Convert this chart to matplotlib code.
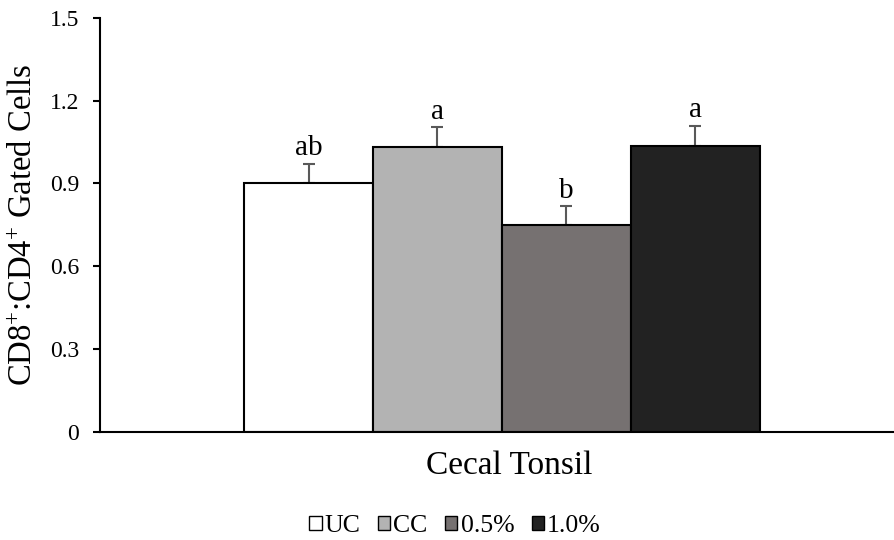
import matplotlib
matplotlib.use("Agg")
import matplotlib.pyplot as plt
from matplotlib.patches import Patch

plt.rcParams['font.family'] = ['Liberation Serif', 'DejaVu Serif']
plt.rcParams['mathtext.fontset'] = 'custom'
plt.rcParams['mathtext.rm'] = 'Liberation Serif'
plt.rcParams['mathtext.it'] = 'Liberation Serif:italic'

groups = ['UC', 'CC', '0.5%', '1.0%']
ratio = [0.902, 1.033, 0.749, 1.036]
sem = [0.070, 0.070, 0.068, 0.073]
letters = ['ab', 'a', 'b', 'a']
fills = ['#ffffff', '#b3b3b3', '#767171', '#222222']

fig = plt.figure(figsize=(8.94, 5.40), dpi=100)
ax = fig.add_axes([0.112, 0.2, 0.888, 0.767])

offsets = [-1.5, -0.5, 0.5, 1.5]
ax.bar(offsets, ratio, width=1.0, color=fills, edgecolor='black', linewidth=1.5, zorder=2)
ax.errorbar(offsets, ratio, yerr=[[0] * len(sem), sem], fmt='none', ecolor='#595959',
            elinewidth=1.5, capsize=4, capthick=1.5, zorder=1)
for x, v, e, t in zip(offsets, ratio, sem, letters):
    ax.text(x, v + e + 0.01, t, ha='center', va='bottom', fontsize=21)

ax.set_xlim(-3.116, 3.04)
ax.set_ylim(0, 1.5)
ax.set_yticks([0, 0.3, 0.6, 0.9, 1.2, 1.5])
ax.set_yticklabels(['0', '0.3', '0.6', '0.9', '1.2', '1.5'])
ax.set_xticks([])
ax.tick_params(axis='y', labelsize=17, length=5, width=1.5, direction='out', pad=10)
for s in ['top', 'right']:
    ax.spines[s].set_visible(False)
for s in ['left', 'bottom']:
    ax.spines[s].set_linewidth(1.5)

ax.set_ylabel(r'CD8$^{+}$:CD4$^{+}$ Gated Cells', fontsize=23.5)
ax.yaxis.set_label_coords(-0.077, 0.5)
ax.set_xlabel('Cecal Tonsil', fontsize=24)
ax.xaxis.set_label_coords(0.515, -0.045)
ax.xaxis.label.set_va('top')

handles = [Patch(facecolor=c, edgecolor='black', linewidth=1) for c in fills]
fig.legend(handles, groups, loc='center', bbox_to_anchor=(0.509, 0.026), ncol=4, frameon=False,
           fontsize=18.5, handlelength=0.48, handleheight=0.48, handletextpad=0.12,
           columnspacing=0.68, borderpad=0)

fig.savefig('out.png', dpi=100)
